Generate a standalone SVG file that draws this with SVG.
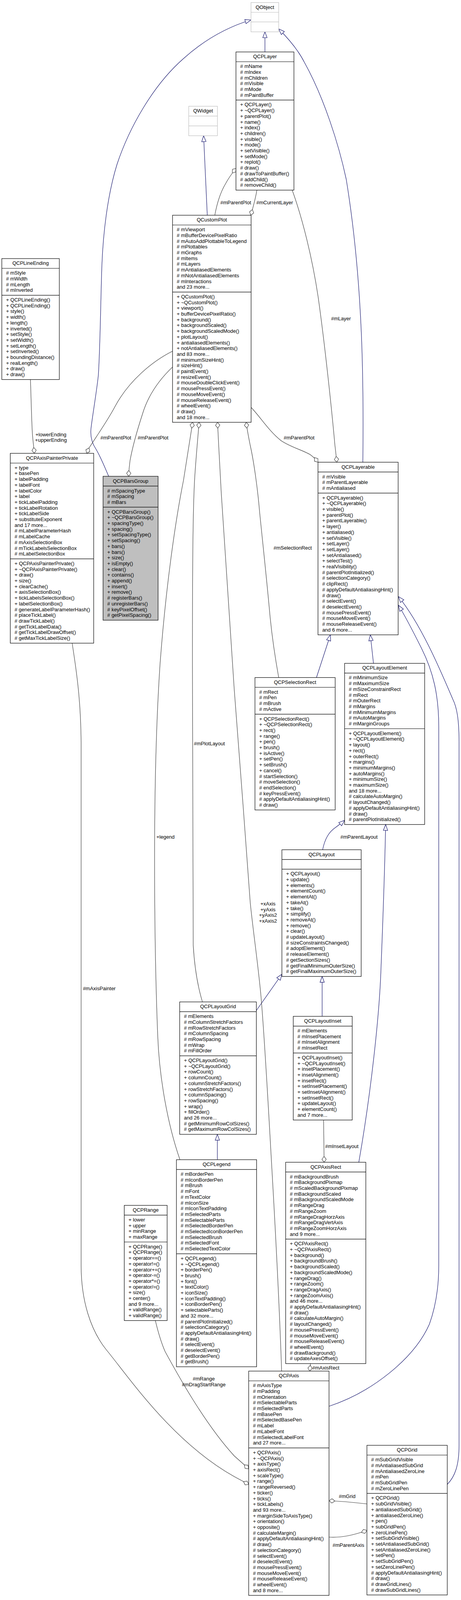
<svg xmlns="http://www.w3.org/2000/svg" width="1181" height="4607" viewBox="0 0 1181 4607">
<style>
rect.b{fill:#fff;stroke:#000;stroke-width:1.2}
.ext rect.b{stroke:#bfbfbf}
.hl rect.b{fill:#bfbfbf}
line.s{stroke:#000;stroke-width:1.2}
.ext line.s{stroke:#bfbfbf}
text{font-family:"Liberation Sans",Arial,Helvetica,sans-serif;font-size:13px;fill:#000}
.ti,.mid{text-anchor:middle}
.inh{fill:none;stroke:#191970;stroke-width:1.2}
.comp{fill:none;stroke:#404040;stroke-width:1.2}
.inh{marker-end:url(#tri)}
.comp{marker-end:url(#dia)}
</style>
<defs>
<marker id="tri" viewBox="-1 -1 17 13" refX="15" refY="5.5" markerWidth="17" markerHeight="13" orient="auto" markerUnits="userSpaceOnUse"><path d="M0,0 L15,5.5 L0,11 Z" fill="#fff" stroke="#191970" stroke-width="1.2"/></marker>
<marker id="dia" viewBox="-1 -1 17 13" refX="15" refY="5.5" markerWidth="17" markerHeight="13" orient="auto" markerUnits="userSpaceOnUse"><path d="M0,5.5 L7.5,0 L15,5.5 L7.5,11 Z" fill="#fff" stroke="#404040" stroke-width="1.2"/></marker>
</defs>
<rect width="1181" height="4607" fill="#fff"/>

<g id="connectors">
<!-- inheritance -->
<path class="inh" d="M278.5,1219.5 C268,1195 258,1170 246,1150 C236,1135 231,1118 233,1098 C236,1070 248,1000 252,960 C257,880 258,760 261,680 C264,600 275,500 300,420 C330,330 390,220 470,150 C520,105 580,70 643,51"/>
<path class="inh" d="M678.7,133 L678.7,81.5"/>
<path class="inh" d="M929.5,1183.3 C931,1060 930,960 926,860 C921,740 910,600 887,459 C868,370 830,250 780,160 C765,130 740,100 714,74"/>
<path class="inh" d="M531,551 L521.6,347.5"/>
<path class="inh" d="M810.7,1734.5 L846.4,1625.2"/>
<path class="inh" d="M956.8,1698.2 L948.7,1625.2"/>
<path class="inh" d="M826.5,2175.4 C832,2148 842,2130 860,2118 C868,2112 876,2106 882.8,2100"/>
<path class="inh" d="M919.2,2975.4 C950,2800 972,2600 976,2480 C980,2380 985,2250 988,2110.7"/>
<path class="inh" d="M656.7,2587 L722.2,2494"/>
<path class="inh" d="M825.3,2601.8 L825.3,2499.7"/>
<path class="inh" d="M556.8,2968.8 L556.8,2903.9"/>
<path class="inh" d="M842.9,3600 C950,3565 1060,3480 1100,3390 C1118,3340 1124,3290 1124,3240 L1124,1860 C1124,1780 1110,1720 1080,1660 C1060,1620 1040,1580 1020.8,1549.5"/>
<path class="inh" d="M1145.8,3800 C1166,3780 1176,3750 1176,3700 L1176,1900 C1176,1840 1170,1810 1160,1790 C1130,1720 1080,1600 1020.8,1527.3"/>
<!-- composition / usage -->
<path class="comp" d="M78,971.6 C80,1030 81,1080 83,1110 C84,1125 86,1140 88,1160.5"/>
<path class="comp" d="M550.3,551 C556,520 566,490 578,470 C586,455 595,443 604.5,431"/>
<path class="comp" d="M658.2,486.7 C655,505 650,525 642.5,551"/>
<path class="comp" d="M748.6,486.7 C775,560 800,660 815,760 C832,880 850,1050 858,1140 C860,1155 861,1168 863,1183.3"/>
<path class="comp" d="M643.3,1043 C665,1065 690,1105 720,1128 C745,1145 775,1152 795,1164 C803,1170 809,1176 814.6,1183.3"/>
<path class="comp" d="M442,899 C390,925 330,975 295,1040 C275,1078 245,1120 228,1147 L222,1160.5"/>
<path class="comp" d="M442,939.6 C410,970 380,1010 365,1060 C352,1100 340,1140 333,1180 C331,1195 330,1207 329.5,1219.3"/>
<path class="comp" d="M461,2968.8 C430,2880 408,2760 404,2650 C398,2500 396,2350 396,2200 C396,2000 400,1850 410,1700 C425,1500 450,1330 470,1230 C478,1180 486,1130 493.5,1081.1"/>
<path class="comp" d="M518.6,2564.9 C505,2520 498,2470 495,2420 C493,2300 493,2000 493,1700 C493,1450 494,1300 499,1220 C503,1160 507,1120 510,1081.1"/>
<path class="comp" d="M721.5,3510 C716,3350 704,3120 695,2966 C684,2770 675,2620 668,2544 C660,2460 648,2380 641,2310 C630,2150 610,1900 600,1764 C592,1650 585,1540 580,1461 C574,1370 569,1300 566.7,1260 C563,1190 560,1140 557.3,1081.1"/>
<path class="comp" d="M714,1734.5 C706,1690 698,1640 692,1580 C684,1490 672,1380 665,1310 C660,1250 650,1180 641,1140 C637,1120 633,1100 630.7,1081.1"/>
<path class="comp" d="M184.8,1646.5 C198,1730 207,1800 207.8,1900 L207.8,3240 C208,3330 232,3405 272,3455 C330,3525 440,3690 600,3780 L637.1,3800"/>
<path class="comp" d="M398,3380.6 C405,3410 412,3435 423,3460 C445,3500 520,3640 600,3727 L637.1,3760"/>
<path class="comp" d="M829,2867.3 L830.3,2975.4"/>
<path class="comp" d="M795.4,3490.8 L793.5,3510"/>
<path class="comp" d="M842.9,3935 C875,3937 905,3930 940,3918"/>
<path class="comp" d="M940,3850 C905,3846 875,3843 842.9,3842"/>
<!-- labels -->
<text class="mid" x="130.5" y="1116.5">+lowerEnding</text>
<text class="mid" x="130.5" y="1131.2">+upperEnding</text>
<text x="564.5" y="522.5">#mParentPlot</text>
<text x="656.7" y="522.5">#mCurrentLayer</text>
<text x="848.3" y="820">#mLayer</text>
<text x="726.8" y="1124.5">#mParentPlot</text>
<text x="257.3" y="1125">#mParentPlot</text>
<text x="352.7" y="1125">#mParentPlot</text>
<text x="700.7" y="1407">#mSelectionRect</text>
<text x="496.7" y="1907.5">#mPlotLayout</text>
<text x="400.7" y="2146.5">+legend</text>
<text x="872" y="2146.5">#mParentLayout</text>
<text x="212.4" y="2535">#mAxisPainter</text>
<text class="mid" x="686.5" y="2317.8">+xAxis</text>
<text class="mid" x="686.5" y="2332.5">+yAxis</text>
<text class="mid" x="686.5" y="2347.2">+yAxis2</text>
<text class="mid" x="686.5" y="2361.9">+xAxis2</text>
<text x="833" y="2939.3">#mInsetLayout</text>
<text class="mid" x="522" y="3534">#mRange</text>
<text class="mid" x="522" y="3549">#mDragStartRange</text>
<text x="800" y="3505.5">#mAxisRect</text>
<text x="852" y="3960">#mParentAxis</text>
<text x="868" y="3835">#mGrid</text>
</g>

<g id="node-QObject" class="ext">
<rect class="b" x="643" y="6.5" width="71" height="75"/>
<line class="s" x1="643" y1="31.5" x2="714" y2="31.5"/>
<line class="s" x1="643" y1="56.2" x2="714" y2="56.2"/>
<text class="ti" x="678.5" y="22.7">QObject</text>
</g>

<g id="node-QWidget" class="ext">
<rect class="b" x="483.5" y="272" width="73.5" height="75.5"/>
<line class="s" x1="483.5" y1="297.2" x2="557" y2="297.2"/>
<line class="s" x1="483.5" y1="322.4" x2="557" y2="322.4"/>
<text class="ti" x="520.25" y="288.2">QWidget</text>
</g>

<g id="node-QCPLayer">
<rect class="b" x="604.5" y="133" width="148.5" height="353.7"/>
<line class="s" x1="604.5" y1="158" x2="753" y2="158"/>
<line class="s" x1="604.5" y1="256.2" x2="753" y2="256.2"/>
<text class="ti" x="678.75" y="149.2">QCPLayer</text>
<text><tspan x="615.3" y="174.2"># mName</tspan><tspan x="615.3" y="188.9"># mIndex</tspan><tspan x="615.3" y="203.6"># mChildren</tspan><tspan x="615.3" y="218.3"># mVisible</tspan><tspan x="615.3" y="233"># mMode</tspan><tspan x="615.3" y="247.7"># mPaintBuffer</tspan></text>
<text><tspan x="615.3" y="272.4">+ QCPLayer()</tspan><tspan x="615.3" y="287.1">+ ~QCPLayer()</tspan><tspan x="615.3" y="301.8">+ parentPlot()</tspan><tspan x="615.3" y="316.5">+ name()</tspan><tspan x="615.3" y="331.2">+ index()</tspan><tspan x="615.3" y="345.9">+ children()</tspan><tspan x="615.3" y="360.6">+ visible()</tspan><tspan x="615.3" y="375.3">+ mode()</tspan><tspan x="615.3" y="390">+ setVisible()</tspan><tspan x="615.3" y="404.7">+ setMode()</tspan><tspan x="615.3" y="419.4">+ replot()</tspan><tspan x="615.3" y="434.1"># draw()</tspan><tspan x="615.3" y="448.8"># drawToPaintBuffer()</tspan><tspan x="615.3" y="463.5"># addChild()</tspan><tspan x="615.3" y="478.2"># removeChild()</tspan></text>
</g>

<g id="node-QCustomPlot">
<rect class="b" x="442" y="551" width="201.3" height="530.1"/>
<line class="s" x1="442" y1="576" x2="643.3" y2="576"/>
<line class="s" x1="442" y1="747.7" x2="643.3" y2="747.7"/>
<text class="ti" x="542.65" y="567.2">QCustomPlot</text>
<text><tspan x="452.8" y="592.2"># mViewport</tspan><tspan x="452.8" y="606.9"># mBufferDevicePixelRatio</tspan><tspan x="452.8" y="621.6"># mAutoAddPlottableToLegend</tspan><tspan x="452.8" y="636.3"># mPlottables</tspan><tspan x="452.8" y="651"># mGraphs</tspan><tspan x="452.8" y="665.7"># mItems</tspan><tspan x="452.8" y="680.4"># mLayers</tspan><tspan x="452.8" y="695.1"># mAntialiasedElements</tspan><tspan x="452.8" y="709.8"># mNotAntialiasedElements</tspan><tspan x="452.8" y="724.5"># mInteractions</tspan><tspan x="452.8" y="739.2">and 23 more...</tspan></text>
<text><tspan x="452.8" y="763.9">+ QCustomPlot()</tspan><tspan x="452.8" y="778.6">+ ~QCustomPlot()</tspan><tspan x="452.8" y="793.3">+ viewport()</tspan><tspan x="452.8" y="808">+ bufferDevicePixelRatio()</tspan><tspan x="452.8" y="822.7">+ background()</tspan><tspan x="452.8" y="837.4">+ backgroundScaled()</tspan><tspan x="452.8" y="852.1">+ backgroundScaledMode()</tspan><tspan x="452.8" y="866.8">+ plotLayout()</tspan><tspan x="452.8" y="881.5">+ antialiasedElements()</tspan><tspan x="452.8" y="896.2">+ notAntialiasedElements()</tspan><tspan x="452.8" y="910.9">and 83 more...</tspan><tspan x="452.8" y="925.6"># minimumSizeHint()</tspan><tspan x="452.8" y="940.3"># sizeHint()</tspan><tspan x="452.8" y="955"># paintEvent()</tspan><tspan x="452.8" y="969.7"># resizeEvent()</tspan><tspan x="452.8" y="984.4"># mouseDoubleClickEvent()</tspan><tspan x="452.8" y="999.1"># mousePressEvent()</tspan><tspan x="452.8" y="1013.8"># mouseMoveEvent()</tspan><tspan x="452.8" y="1028.5"># mouseReleaseEvent()</tspan><tspan x="452.8" y="1043.2"># wheelEvent()</tspan><tspan x="452.8" y="1057.9"># draw()</tspan><tspan x="452.8" y="1072.6">and 18 more...</tspan></text>
</g>

<g id="node-QCPLineEnding">
<rect class="b" x="4.6" y="662" width="147.4" height="309.6"/>
<line class="s" x1="4.6" y1="687" x2="152" y2="687"/>
<line class="s" x1="4.6" y1="755.8" x2="152" y2="755.8"/>
<text class="ti" x="78.3" y="678.2">QCPLineEnding</text>
<text><tspan x="15.4" y="703.2"># mStyle</tspan><tspan x="15.4" y="717.9"># mWidth</tspan><tspan x="15.4" y="732.6"># mLength</tspan><tspan x="15.4" y="747.3"># mInverted</tspan></text>
<text><tspan x="15.4" y="772">+ QCPLineEnding()</tspan><tspan x="15.4" y="786.7">+ QCPLineEnding()</tspan><tspan x="15.4" y="801.4">+ style()</tspan><tspan x="15.4" y="816.1">+ width()</tspan><tspan x="15.4" y="830.8">+ length()</tspan><tspan x="15.4" y="845.5">+ inverted()</tspan><tspan x="15.4" y="860.2">+ setStyle()</tspan><tspan x="15.4" y="874.9">+ setWidth()</tspan><tspan x="15.4" y="889.6">+ setLength()</tspan><tspan x="15.4" y="904.3">+ setInverted()</tspan><tspan x="15.4" y="919">+ boundingDistance()</tspan><tspan x="15.4" y="933.7">+ realLength()</tspan><tspan x="15.4" y="948.4">+ draw()</tspan><tspan x="15.4" y="963.1">+ draw()</tspan></text>
</g>

<g id="node-QCPAxisPainterPrivate">
<rect class="b" x="26.4" y="1160.5" width="213.6" height="486"/>
<line class="s" x1="26.4" y1="1185.5" x2="240" y2="1185.5"/>
<line class="s" x1="26.4" y1="1430.7" x2="240" y2="1430.7"/>
<text class="ti" x="133.2" y="1176.7">QCPAxisPainterPrivate</text>
<text><tspan x="37.2" y="1201.7">+ type</tspan><tspan x="37.2" y="1216.4">+ basePen</tspan><tspan x="37.2" y="1231.1">+ labelPadding</tspan><tspan x="37.2" y="1245.8">+ labelFont</tspan><tspan x="37.2" y="1260.5">+ labelColor</tspan><tspan x="37.2" y="1275.2">+ label</tspan><tspan x="37.2" y="1289.9">+ tickLabelPadding</tspan><tspan x="37.2" y="1304.6">+ tickLabelRotation</tspan><tspan x="37.2" y="1319.3">+ tickLabelSide</tspan><tspan x="37.2" y="1334">+ substituteExponent</tspan><tspan x="37.2" y="1348.7">and 17 more...</tspan><tspan x="37.2" y="1363.4"># mLabelParameterHash</tspan><tspan x="37.2" y="1378.1"># mLabelCache</tspan><tspan x="37.2" y="1392.8"># mAxisSelectionBox</tspan><tspan x="37.2" y="1407.5"># mTickLabelsSelectionBox</tspan><tspan x="37.2" y="1422.2"># mLabelSelectionBox</tspan></text>
<text><tspan x="37.2" y="1446.9">+ QCPAxisPainterPrivate()</tspan><tspan x="37.2" y="1461.6">+ ~QCPAxisPainterPrivate()</tspan><tspan x="37.2" y="1476.3">+ draw()</tspan><tspan x="37.2" y="1491">+ size()</tspan><tspan x="37.2" y="1505.7">+ clearCache()</tspan><tspan x="37.2" y="1520.4">+ axisSelectionBox()</tspan><tspan x="37.2" y="1535.1">+ tickLabelsSelectionBox()</tspan><tspan x="37.2" y="1549.8">+ labelSelectionBox()</tspan><tspan x="37.2" y="1564.5"># generateLabelParameterHash()</tspan><tspan x="37.2" y="1579.2"># placeTickLabel()</tspan><tspan x="37.2" y="1593.9"># drawTickLabel()</tspan><tspan x="37.2" y="1608.6"># getTickLabelData()</tspan><tspan x="37.2" y="1623.3"># getTickLabelDrawOffset()</tspan><tspan x="37.2" y="1638"># getMaxTickLabelSize()</tspan></text>
</g>

<g id="node-QCPBarsGroup" class="hl">
<rect class="b" x="264" y="1219.3" width="141" height="368.4"/>
<line class="s" x1="264" y1="1244.3" x2="405" y2="1244.3"/>
<line class="s" x1="264" y1="1298.4" x2="405" y2="1298.4"/>
<text class="ti" x="334.5" y="1235.5">QCPBarsGroup</text>
<text><tspan x="274.8" y="1260.5"># mSpacingType</tspan><tspan x="274.8" y="1275.2"># mSpacing</tspan><tspan x="274.8" y="1289.9"># mBars</tspan></text>
<text><tspan x="274.8" y="1314.6">+ QCPBarsGroup()</tspan><tspan x="274.8" y="1329.3">+ ~QCPBarsGroup()</tspan><tspan x="274.8" y="1344">+ spacingType()</tspan><tspan x="274.8" y="1358.7">+ spacing()</tspan><tspan x="274.8" y="1373.4">+ setSpacingType()</tspan><tspan x="274.8" y="1388.1">+ setSpacing()</tspan><tspan x="274.8" y="1402.8">+ bars()</tspan><tspan x="274.8" y="1417.5">+ bars()</tspan><tspan x="274.8" y="1432.2">+ size()</tspan><tspan x="274.8" y="1446.9">+ isEmpty()</tspan><tspan x="274.8" y="1461.6">+ clear()</tspan><tspan x="274.8" y="1476.3">+ contains()</tspan><tspan x="274.8" y="1491">+ append()</tspan><tspan x="274.8" y="1505.7">+ insert()</tspan><tspan x="274.8" y="1520.4">+ remove()</tspan><tspan x="274.8" y="1535.1"># registerBars()</tspan><tspan x="274.8" y="1549.8"># unregisterBars()</tspan><tspan x="274.8" y="1564.5"># keyPixelOffset()</tspan><tspan x="274.8" y="1579.2"># getPixelSpacing()</tspan></text>
</g>

<g id="node-QCPLayerable">
<rect class="b" x="814.6" y="1183.3" width="205.4" height="441.9"/>
<line class="s" x1="814.6" y1="1208.3" x2="1020" y2="1208.3"/>
<line class="s" x1="814.6" y1="1262.4" x2="1020" y2="1262.4"/>
<text class="ti" x="917.3" y="1199.5">QCPLayerable</text>
<text><tspan x="825.4" y="1224.5"># mVisible</tspan><tspan x="825.4" y="1239.2"># mParentLayerable</tspan><tspan x="825.4" y="1253.9"># mAntialiased</tspan></text>
<text><tspan x="825.4" y="1278.6">+ QCPLayerable()</tspan><tspan x="825.4" y="1293.3">+ ~QCPLayerable()</tspan><tspan x="825.4" y="1308">+ visible()</tspan><tspan x="825.4" y="1322.7">+ parentPlot()</tspan><tspan x="825.4" y="1337.4">+ parentLayerable()</tspan><tspan x="825.4" y="1352.1">+ layer()</tspan><tspan x="825.4" y="1366.8">+ antialiased()</tspan><tspan x="825.4" y="1381.5">+ setVisible()</tspan><tspan x="825.4" y="1396.2">+ setLayer()</tspan><tspan x="825.4" y="1410.9">+ setLayer()</tspan><tspan x="825.4" y="1425.6">+ setAntialiased()</tspan><tspan x="825.4" y="1440.3">+ selectTest()</tspan><tspan x="825.4" y="1455">+ realVisibility()</tspan><tspan x="825.4" y="1469.7"># parentPlotInitialized()</tspan><tspan x="825.4" y="1484.4"># selectionCategory()</tspan><tspan x="825.4" y="1499.1"># clipRect()</tspan><tspan x="825.4" y="1513.8"># applyDefaultAntialiasingHint()</tspan><tspan x="825.4" y="1528.5"># draw()</tspan><tspan x="825.4" y="1543.2"># selectEvent()</tspan><tspan x="825.4" y="1557.9"># deselectEvent()</tspan><tspan x="825.4" y="1572.6"># mousePressEvent()</tspan><tspan x="825.4" y="1587.3"># mouseMoveEvent()</tspan><tspan x="825.4" y="1602"># mouseReleaseEvent()</tspan><tspan x="825.4" y="1616.7">and 6 more...</tspan></text>
</g>

<g id="node-QCPSelectionRect">
<rect class="b" x="653.2" y="1734.5" width="205.4" height="339"/>
<line class="s" x1="653.2" y1="1759.5" x2="858.6" y2="1759.5"/>
<line class="s" x1="653.2" y1="1828.3" x2="858.6" y2="1828.3"/>
<text class="ti" x="755.9" y="1750.7">QCPSelectionRect</text>
<text><tspan x="664" y="1775.7"># mRect</tspan><tspan x="664" y="1790.4"># mPen</tspan><tspan x="664" y="1805.1"># mBrush</tspan><tspan x="664" y="1819.8"># mActive</tspan></text>
<text><tspan x="664" y="1844.5">+ QCPSelectionRect()</tspan><tspan x="664" y="1859.2">+ ~QCPSelectionRect()</tspan><tspan x="664" y="1873.9">+ rect()</tspan><tspan x="664" y="1888.6">+ range()</tspan><tspan x="664" y="1903.3">+ pen()</tspan><tspan x="664" y="1918">+ brush()</tspan><tspan x="664" y="1932.7">+ isActive()</tspan><tspan x="664" y="1947.4">+ setPen()</tspan><tspan x="664" y="1962.1">+ setBrush()</tspan><tspan x="664" y="1976.8">+ cancel()</tspan><tspan x="664" y="1991.5"># startSelection()</tspan><tspan x="664" y="2006.2"># moveSelection()</tspan><tspan x="664" y="2020.9"># endSelection()</tspan><tspan x="664" y="2035.6"># keyPressEvent()</tspan><tspan x="664" y="2050.3"># applyDefaultAntialiasingHint()</tspan><tspan x="664" y="2065"># draw()</tspan></text>
</g>

<g id="node-QCPLayoutElement">
<rect class="b" x="882.8" y="1698.2" width="205.1" height="412.5"/>
<line class="s" x1="882.8" y1="1723.2" x2="1087.9" y2="1723.2"/>
<line class="s" x1="882.8" y1="1865.5" x2="1087.9" y2="1865.5"/>
<text class="ti" x="985.35" y="1714.4">QCPLayoutElement</text>
<text><tspan x="893.6" y="1739.4"># mMinimumSize</tspan><tspan x="893.6" y="1754.1"># mMaximumSize</tspan><tspan x="893.6" y="1768.8"># mSizeConstraintRect</tspan><tspan x="893.6" y="1783.5"># mRect</tspan><tspan x="893.6" y="1798.2"># mOuterRect</tspan><tspan x="893.6" y="1812.9"># mMargins</tspan><tspan x="893.6" y="1827.6"># mMinimumMargins</tspan><tspan x="893.6" y="1842.3"># mAutoMargins</tspan><tspan x="893.6" y="1857"># mMarginGroups</tspan></text>
<text><tspan x="893.6" y="1881.7">+ QCPLayoutElement()</tspan><tspan x="893.6" y="1896.4">+ ~QCPLayoutElement()</tspan><tspan x="893.6" y="1911.1">+ layout()</tspan><tspan x="893.6" y="1925.8">+ rect()</tspan><tspan x="893.6" y="1940.5">+ outerRect()</tspan><tspan x="893.6" y="1955.2">+ margins()</tspan><tspan x="893.6" y="1969.9">+ minimumMargins()</tspan><tspan x="893.6" y="1984.6">+ autoMargins()</tspan><tspan x="893.6" y="1999.3">+ minimumSize()</tspan><tspan x="893.6" y="2014">+ maximumSize()</tspan><tspan x="893.6" y="2028.7">and 18 more...</tspan><tspan x="893.6" y="2043.4"># calculateAutoMargin()</tspan><tspan x="893.6" y="2058.1"># layoutChanged()</tspan><tspan x="893.6" y="2072.8"># applyDefaultAntialiasingHint()</tspan><tspan x="893.6" y="2087.5"># draw()</tspan><tspan x="893.6" y="2102.2"># parentPlotInitialized()</tspan></text>
</g>

<g id="node-QCPLayout">
<rect class="b" x="722.2" y="2175.4" width="203.1" height="324.3"/>
<line class="s" x1="722.2" y1="2200.4" x2="925.3" y2="2200.4"/>
<line class="s" x1="722.2" y1="2225.1" x2="925.3" y2="2225.1"/>
<text class="ti" x="823.75" y="2191.6">QCPLayout</text>
<text><tspan x="733" y="2241.3">+ QCPLayout()</tspan><tspan x="733" y="2256">+ update()</tspan><tspan x="733" y="2270.7">+ elements()</tspan><tspan x="733" y="2285.4">+ elementCount()</tspan><tspan x="733" y="2300.1">+ elementAt()</tspan><tspan x="733" y="2314.8">+ takeAt()</tspan><tspan x="733" y="2329.5">+ take()</tspan><tspan x="733" y="2344.2">+ simplify()</tspan><tspan x="733" y="2358.9">+ removeAt()</tspan><tspan x="733" y="2373.6">+ remove()</tspan><tspan x="733" y="2388.3">+ clear()</tspan><tspan x="733" y="2403"># updateLayout()</tspan><tspan x="733" y="2417.7"># sizeConstraintsChanged()</tspan><tspan x="733" y="2432.4"># adoptElement()</tspan><tspan x="733" y="2447.1"># releaseElement()</tspan><tspan x="733" y="2461.8"># getSectionSizes()</tspan><tspan x="733" y="2476.5"># getFinalMinimumOuterSize()</tspan><tspan x="733" y="2491.2"># getFinalMaximumOuterSize()</tspan></text>
</g>

<g id="node-QCPLayoutGrid">
<rect class="b" x="460.4" y="2564.9" width="196.3" height="339"/>
<line class="s" x1="460.4" y1="2589.9" x2="656.7" y2="2589.9"/>
<line class="s" x1="460.4" y1="2702.8" x2="656.7" y2="2702.8"/>
<text class="ti" x="558.55" y="2581.1">QCPLayoutGrid</text>
<text><tspan x="471.2" y="2606.1"># mElements</tspan><tspan x="471.2" y="2620.8"># mColumnStretchFactors</tspan><tspan x="471.2" y="2635.5"># mRowStretchFactors</tspan><tspan x="471.2" y="2650.2"># mColumnSpacing</tspan><tspan x="471.2" y="2664.9"># mRowSpacing</tspan><tspan x="471.2" y="2679.6"># mWrap</tspan><tspan x="471.2" y="2694.3"># mFillOrder</tspan></text>
<text><tspan x="471.2" y="2719">+ QCPLayoutGrid()</tspan><tspan x="471.2" y="2733.7">+ ~QCPLayoutGrid()</tspan><tspan x="471.2" y="2748.4">+ rowCount()</tspan><tspan x="471.2" y="2763.1">+ columnCount()</tspan><tspan x="471.2" y="2777.8">+ columnStretchFactors()</tspan><tspan x="471.2" y="2792.5">+ rowStretchFactors()</tspan><tspan x="471.2" y="2807.2">+ columnSpacing()</tspan><tspan x="471.2" y="2821.9">+ rowSpacing()</tspan><tspan x="471.2" y="2836.6">+ wrap()</tspan><tspan x="471.2" y="2851.3">+ fillOrder()</tspan><tspan x="471.2" y="2866">and 26 more...</tspan><tspan x="471.2" y="2880.7"># getMinimumRowColSizes()</tspan><tspan x="471.2" y="2895.4"># getMaximumRowColSizes()</tspan></text>
</g>

<g id="node-QCPLayoutInset">
<rect class="b" x="751.3" y="2601.8" width="151" height="265.5"/>
<line class="s" x1="751.3" y1="2626.8" x2="902.3" y2="2626.8"/>
<line class="s" x1="751.3" y1="2695.6" x2="902.3" y2="2695.6"/>
<text class="ti" x="826.8" y="2618">QCPLayoutInset</text>
<text><tspan x="762.1" y="2643"># mElements</tspan><tspan x="762.1" y="2657.7"># mInsetPlacement</tspan><tspan x="762.1" y="2672.4"># mInsetAlignment</tspan><tspan x="762.1" y="2687.1"># mInsetRect</tspan></text>
<text><tspan x="762.1" y="2711.8">+ QCPLayoutInset()</tspan><tspan x="762.1" y="2726.5">+ ~QCPLayoutInset()</tspan><tspan x="762.1" y="2741.2">+ insetPlacement()</tspan><tspan x="762.1" y="2755.9">+ insetAlignment()</tspan><tspan x="762.1" y="2770.6">+ insetRect()</tspan><tspan x="762.1" y="2785.3">+ setInsetPlacement()</tspan><tspan x="762.1" y="2800">+ setInsetAlignment()</tspan><tspan x="762.1" y="2814.7">+ setInsetRect()</tspan><tspan x="762.1" y="2829.4">+ updateLayout()</tspan><tspan x="762.1" y="2844.1">+ elementCount()</tspan><tspan x="762.1" y="2858.8">and 7 more...</tspan></text>
</g>

<g id="node-QCPLegend">
<rect class="b" x="452" y="2968.8" width="205.4" height="530.1"/>
<line class="s" x1="452" y1="2993.8" x2="657.4" y2="2993.8"/>
<line class="s" x1="452" y1="3209.6" x2="657.4" y2="3209.6"/>
<text class="ti" x="554.7" y="2985">QCPLegend</text>
<text><tspan x="462.8" y="3010"># mBorderPen</tspan><tspan x="462.8" y="3024.7"># mIconBorderPen</tspan><tspan x="462.8" y="3039.4"># mBrush</tspan><tspan x="462.8" y="3054.1"># mFont</tspan><tspan x="462.8" y="3068.8"># mTextColor</tspan><tspan x="462.8" y="3083.5"># mIconSize</tspan><tspan x="462.8" y="3098.2"># mIconTextPadding</tspan><tspan x="462.8" y="3112.9"># mSelectedParts</tspan><tspan x="462.8" y="3127.6"># mSelectableParts</tspan><tspan x="462.8" y="3142.3"># mSelectedBorderPen</tspan><tspan x="462.8" y="3157"># mSelectedIconBorderPen</tspan><tspan x="462.8" y="3171.7"># mSelectedBrush</tspan><tspan x="462.8" y="3186.4"># mSelectedFont</tspan><tspan x="462.8" y="3201.1"># mSelectedTextColor</tspan></text>
<text><tspan x="462.8" y="3225.8">+ QCPLegend()</tspan><tspan x="462.8" y="3240.5">+ ~QCPLegend()</tspan><tspan x="462.8" y="3255.2">+ borderPen()</tspan><tspan x="462.8" y="3269.9">+ brush()</tspan><tspan x="462.8" y="3284.6">+ font()</tspan><tspan x="462.8" y="3299.3">+ textColor()</tspan><tspan x="462.8" y="3314">+ iconSize()</tspan><tspan x="462.8" y="3328.7">+ iconTextPadding()</tspan><tspan x="462.8" y="3343.4">+ iconBorderPen()</tspan><tspan x="462.8" y="3358.1">+ selectableParts()</tspan><tspan x="462.8" y="3372.8">and 32 more...</tspan><tspan x="462.8" y="3387.5"># parentPlotInitialized()</tspan><tspan x="462.8" y="3402.2"># selectionCategory()</tspan><tspan x="462.8" y="3416.9"># applyDefaultAntialiasingHint()</tspan><tspan x="462.8" y="3431.6"># draw()</tspan><tspan x="462.8" y="3446.3"># selectEvent()</tspan><tspan x="462.8" y="3461"># deselectEvent()</tspan><tspan x="462.8" y="3475.7"># getBorderPen()</tspan><tspan x="462.8" y="3490.4"># getBrush()</tspan></text>
</g>

<g id="node-QCPRange">
<rect class="b" x="318.4" y="3085.7" width="109.8" height="294.9"/>
<line class="s" x1="318.4" y1="3110.7" x2="428.2" y2="3110.7"/>
<line class="s" x1="318.4" y1="3179.5" x2="428.2" y2="3179.5"/>
<text class="ti" x="373.3" y="3101.9">QCPRange</text>
<text><tspan x="329.2" y="3126.9">+ lower</tspan><tspan x="329.2" y="3141.6">+ upper</tspan><tspan x="329.2" y="3156.3">+ minRange</tspan><tspan x="329.2" y="3171">+ maxRange</tspan></text>
<text><tspan x="329.2" y="3195.7">+ QCPRange()</tspan><tspan x="329.2" y="3210.4">+ QCPRange()</tspan><tspan x="329.2" y="3225.1">+ operator==()</tspan><tspan x="329.2" y="3239.8">+ operator!=()</tspan><tspan x="329.2" y="3254.5">+ operator+=()</tspan><tspan x="329.2" y="3269.2">+ operator-=()</tspan><tspan x="329.2" y="3283.9">+ operator*=()</tspan><tspan x="329.2" y="3298.6">+ operator/=()</tspan><tspan x="329.2" y="3313.3">+ size()</tspan><tspan x="329.2" y="3328">+ center()</tspan><tspan x="329.2" y="3342.7">and 9 more...</tspan><tspan x="329.2" y="3357.4">+ validRange()</tspan><tspan x="329.2" y="3372.1">+ validRange()</tspan></text>
</g>

<g id="node-QCPAxisRect">
<rect class="b" x="731.8" y="2975.4" width="205.4" height="515.4"/>
<line class="s" x1="731.8" y1="3000.4" x2="937.2" y2="3000.4"/>
<line class="s" x1="731.8" y1="3172.1" x2="937.2" y2="3172.1"/>
<text class="ti" x="834.5" y="2991.6">QCPAxisRect</text>
<text><tspan x="742.6" y="3016.6"># mBackgroundBrush</tspan><tspan x="742.6" y="3031.3"># mBackgroundPixmap</tspan><tspan x="742.6" y="3046"># mScaledBackgroundPixmap</tspan><tspan x="742.6" y="3060.7"># mBackgroundScaled</tspan><tspan x="742.6" y="3075.4"># mBackgroundScaledMode</tspan><tspan x="742.6" y="3090.1"># mRangeDrag</tspan><tspan x="742.6" y="3104.8"># mRangeZoom</tspan><tspan x="742.6" y="3119.5"># mRangeDragHorzAxis</tspan><tspan x="742.6" y="3134.2"># mRangeDragVertAxis</tspan><tspan x="742.6" y="3148.9"># mRangeZoomHorzAxis</tspan><tspan x="742.6" y="3163.6">and 9 more...</tspan></text>
<text><tspan x="742.6" y="3188.3">+ QCPAxisRect()</tspan><tspan x="742.6" y="3203">+ ~QCPAxisRect()</tspan><tspan x="742.6" y="3217.7">+ background()</tspan><tspan x="742.6" y="3232.4">+ backgroundBrush()</tspan><tspan x="742.6" y="3247.1">+ backgroundScaled()</tspan><tspan x="742.6" y="3261.8">+ backgroundScaledMode()</tspan><tspan x="742.6" y="3276.5">+ rangeDrag()</tspan><tspan x="742.6" y="3291.2">+ rangeZoom()</tspan><tspan x="742.6" y="3305.9">+ rangeDragAxis()</tspan><tspan x="742.6" y="3320.6">+ rangeZoomAxis()</tspan><tspan x="742.6" y="3335.3">and 46 more...</tspan><tspan x="742.6" y="3350"># applyDefaultAntialiasingHint()</tspan><tspan x="742.6" y="3364.7"># draw()</tspan><tspan x="742.6" y="3379.4"># calculateAutoMargin()</tspan><tspan x="742.6" y="3394.1"># layoutChanged()</tspan><tspan x="742.6" y="3408.8"># mousePressEvent()</tspan><tspan x="742.6" y="3423.5"># mouseMoveEvent()</tspan><tspan x="742.6" y="3438.2"># mouseReleaseEvent()</tspan><tspan x="742.6" y="3452.9"># wheelEvent()</tspan><tspan x="742.6" y="3467.6"># drawBackground()</tspan><tspan x="742.6" y="3482.3"># updateAxesOffset()</tspan></text>
</g>

<g id="node-QCPAxis">
<rect class="b" x="637.1" y="3510" width="205.8" height="574.2"/>
<line class="s" x1="637.1" y1="3535" x2="842.9" y2="3535"/>
<line class="s" x1="637.1" y1="3706.7" x2="842.9" y2="3706.7"/>
<text class="ti" x="740" y="3526.2">QCPAxis</text>
<text><tspan x="647.9" y="3551.2"># mAxisType</tspan><tspan x="647.9" y="3565.9"># mPadding</tspan><tspan x="647.9" y="3580.6"># mOrientation</tspan><tspan x="647.9" y="3595.3"># mSelectableParts</tspan><tspan x="647.9" y="3610"># mSelectedParts</tspan><tspan x="647.9" y="3624.7"># mBasePen</tspan><tspan x="647.9" y="3639.4"># mSelectedBasePen</tspan><tspan x="647.9" y="3654.1"># mLabel</tspan><tspan x="647.9" y="3668.8"># mLabelFont</tspan><tspan x="647.9" y="3683.5"># mSelectedLabelFont</tspan><tspan x="647.9" y="3698.2">and 27 more...</tspan></text>
<text><tspan x="647.9" y="3722.9">+ QCPAxis()</tspan><tspan x="647.9" y="3737.6">+ ~QCPAxis()</tspan><tspan x="647.9" y="3752.3">+ axisType()</tspan><tspan x="647.9" y="3767">+ axisRect()</tspan><tspan x="647.9" y="3781.7">+ scaleType()</tspan><tspan x="647.9" y="3796.4">+ range()</tspan><tspan x="647.9" y="3811.1">+ rangeReversed()</tspan><tspan x="647.9" y="3825.8">+ ticker()</tspan><tspan x="647.9" y="3840.5">+ ticks()</tspan><tspan x="647.9" y="3855.2">+ tickLabels()</tspan><tspan x="647.9" y="3869.9">and 93 more...</tspan><tspan x="647.9" y="3884.6">+ marginSideToAxisType()</tspan><tspan x="647.9" y="3899.3">+ orientation()</tspan><tspan x="647.9" y="3914">+ opposite()</tspan><tspan x="647.9" y="3928.7"># calculateMargin()</tspan><tspan x="647.9" y="3943.4"># applyDefaultAntialiasingHint()</tspan><tspan x="647.9" y="3958.1"># draw()</tspan><tspan x="647.9" y="3972.8"># selectionCategory()</tspan><tspan x="647.9" y="3987.5"># selectEvent()</tspan><tspan x="647.9" y="4002.2"># deselectEvent()</tspan><tspan x="647.9" y="4016.9"># mousePressEvent()</tspan><tspan x="647.9" y="4031.6"># mouseMoveEvent()</tspan><tspan x="647.9" y="4046.3"># mouseReleaseEvent()</tspan><tspan x="647.9" y="4061"># wheelEvent()</tspan><tspan x="647.9" y="4075.7">and 8 more...</tspan></text>
</g>

<g id="node-QCPGrid">
<rect class="b" x="940" y="3700" width="205.8" height="383.1"/>
<line class="s" x1="940" y1="3725" x2="1145.8" y2="3725"/>
<line class="s" x1="940" y1="3823.2" x2="1145.8" y2="3823.2"/>
<text class="ti" x="1042.9" y="3716.2">QCPGrid</text>
<text><tspan x="950.8" y="3741.2"># mSubGridVisible</tspan><tspan x="950.8" y="3755.9"># mAntialiasedSubGrid</tspan><tspan x="950.8" y="3770.6"># mAntialiasedZeroLine</tspan><tspan x="950.8" y="3785.3"># mPen</tspan><tspan x="950.8" y="3800"># mSubGridPen</tspan><tspan x="950.8" y="3814.7"># mZeroLinePen</tspan></text>
<text><tspan x="950.8" y="3839.4">+ QCPGrid()</tspan><tspan x="950.8" y="3854.1">+ subGridVisible()</tspan><tspan x="950.8" y="3868.8">+ antialiasedSubGrid()</tspan><tspan x="950.8" y="3883.5">+ antialiasedZeroLine()</tspan><tspan x="950.8" y="3898.2">+ pen()</tspan><tspan x="950.8" y="3912.9">+ subGridPen()</tspan><tspan x="950.8" y="3927.6">+ zeroLinePen()</tspan><tspan x="950.8" y="3942.3">+ setSubGridVisible()</tspan><tspan x="950.8" y="3957">+ setAntialiasedSubGrid()</tspan><tspan x="950.8" y="3971.7">+ setAntialiasedZeroLine()</tspan><tspan x="950.8" y="3986.4">+ setPen()</tspan><tspan x="950.8" y="4001.1">+ setSubGridPen()</tspan><tspan x="950.8" y="4015.8">+ setZeroLinePen()</tspan><tspan x="950.8" y="4030.5"># applyDefaultAntialiasingHint()</tspan><tspan x="950.8" y="4045.2"># draw()</tspan><tspan x="950.8" y="4059.9"># drawGridLines()</tspan><tspan x="950.8" y="4074.6"># drawSubGridLines()</tspan></text>
</g>
</svg>
